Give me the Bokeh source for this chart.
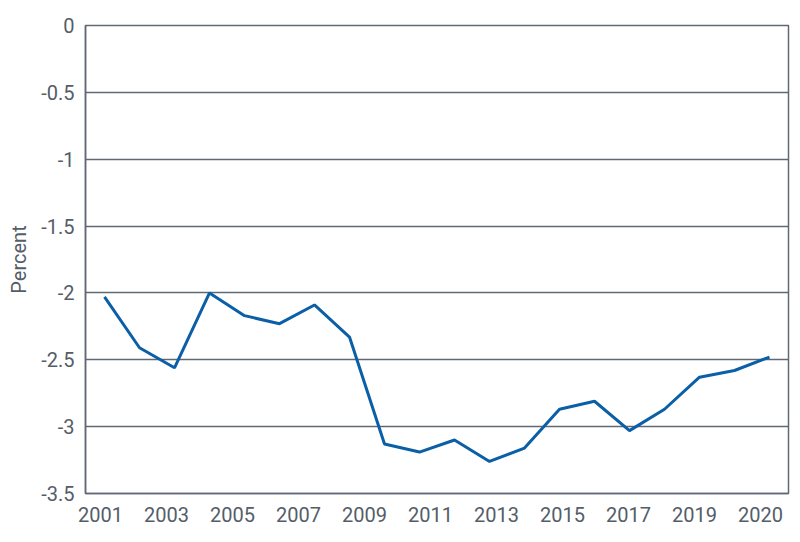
from bokeh.plotting import figure
from bokeh.embed import file_html
from bokeh.resources import INLINE
from bokeh.models import FixedTicker, Range1d
import numpy as np

years = list(range(2001, 2021))
values = [-2.03, -2.41, -2.56, -2.00, -2.17, -2.23, -2.09, -2.33, -3.13, -3.19,
          -3.10, -3.26, -3.16, -2.87, -2.81, -3.03, -2.87, -2.63, -2.58, -2.48]
x_tick_labels = ["2001", "2003", "2005", "2007", "2009", "2011", "2013", "2015", "2017", "2019", "2020"]
y_ticks = [0, -0.5, -1, -1.5, -2, -2.5, -3, -3.5]
y_tick_labels = ["0", "-0.5", "-1", "-1.5", "-2", "-2.5", "-3", "-3.5"]

GRAY = "#5f6873"
TEXT = "#545d68"
BLUE = "#0a5fa6"
FONT = "Roboto"

idx = list(range(len(years)))

p = figure(width=792, height=534, output_backend="svg", toolbar_location=None,
           x_range=Range1d(-0.543, 19.543), y_range=Range1d(-3.5, 0),
           min_border_left=85, min_border_right=4, min_border_top=25, min_border_bottom=41)

p.line(idx, values, line_color=BLUE, line_width=3)

# x ticks evenly spaced across the axis (layout positions)
xt = list(-0.114 + 1.886 * np.arange(len(x_tick_labels)))
p.xaxis.ticker = FixedTicker(ticks=xt)
p.xaxis.major_label_overrides = {t: lab for t, lab in zip(xt, x_tick_labels)}
p.yaxis.ticker = FixedTicker(ticks=y_ticks)
p.yaxis.major_label_overrides = {t: lab for t, lab in zip(y_ticks, y_tick_labels)}

for ax in (p.xaxis, p.yaxis):
    ax.major_tick_line_color = None
    ax.minor_tick_line_color = None
    ax.axis_line_color = GRAY
    ax.axis_line_width = 1.5
    ax.major_label_text_font = FONT
    ax.major_label_text_font_size = "20px"
    ax.major_label_text_color = TEXT

p.xaxis.major_label_standoff = 7
p.yaxis.major_label_standoff = 5
p.yaxis.axis_label = "Percent"
p.yaxis.axis_label_text_font = FONT
p.yaxis.axis_label_text_font_size = "20px"
p.yaxis.axis_label_text_font_style = "normal"
p.yaxis.axis_label_text_color = TEXT
p.yaxis.axis_label_standoff = 7

p.xgrid.grid_line_color = None
p.ygrid.grid_line_color = GRAY
p.ygrid.grid_line_width = 1.5
p.ygrid.ticker = FixedTicker(ticks=y_ticks)

p.outline_line_color = GRAY
p.outline_line_width = 1.5
p.background_fill_color = "white"
p.border_fill_color = "white"

open("out.html", "w").write(file_html(p, INLINE))
